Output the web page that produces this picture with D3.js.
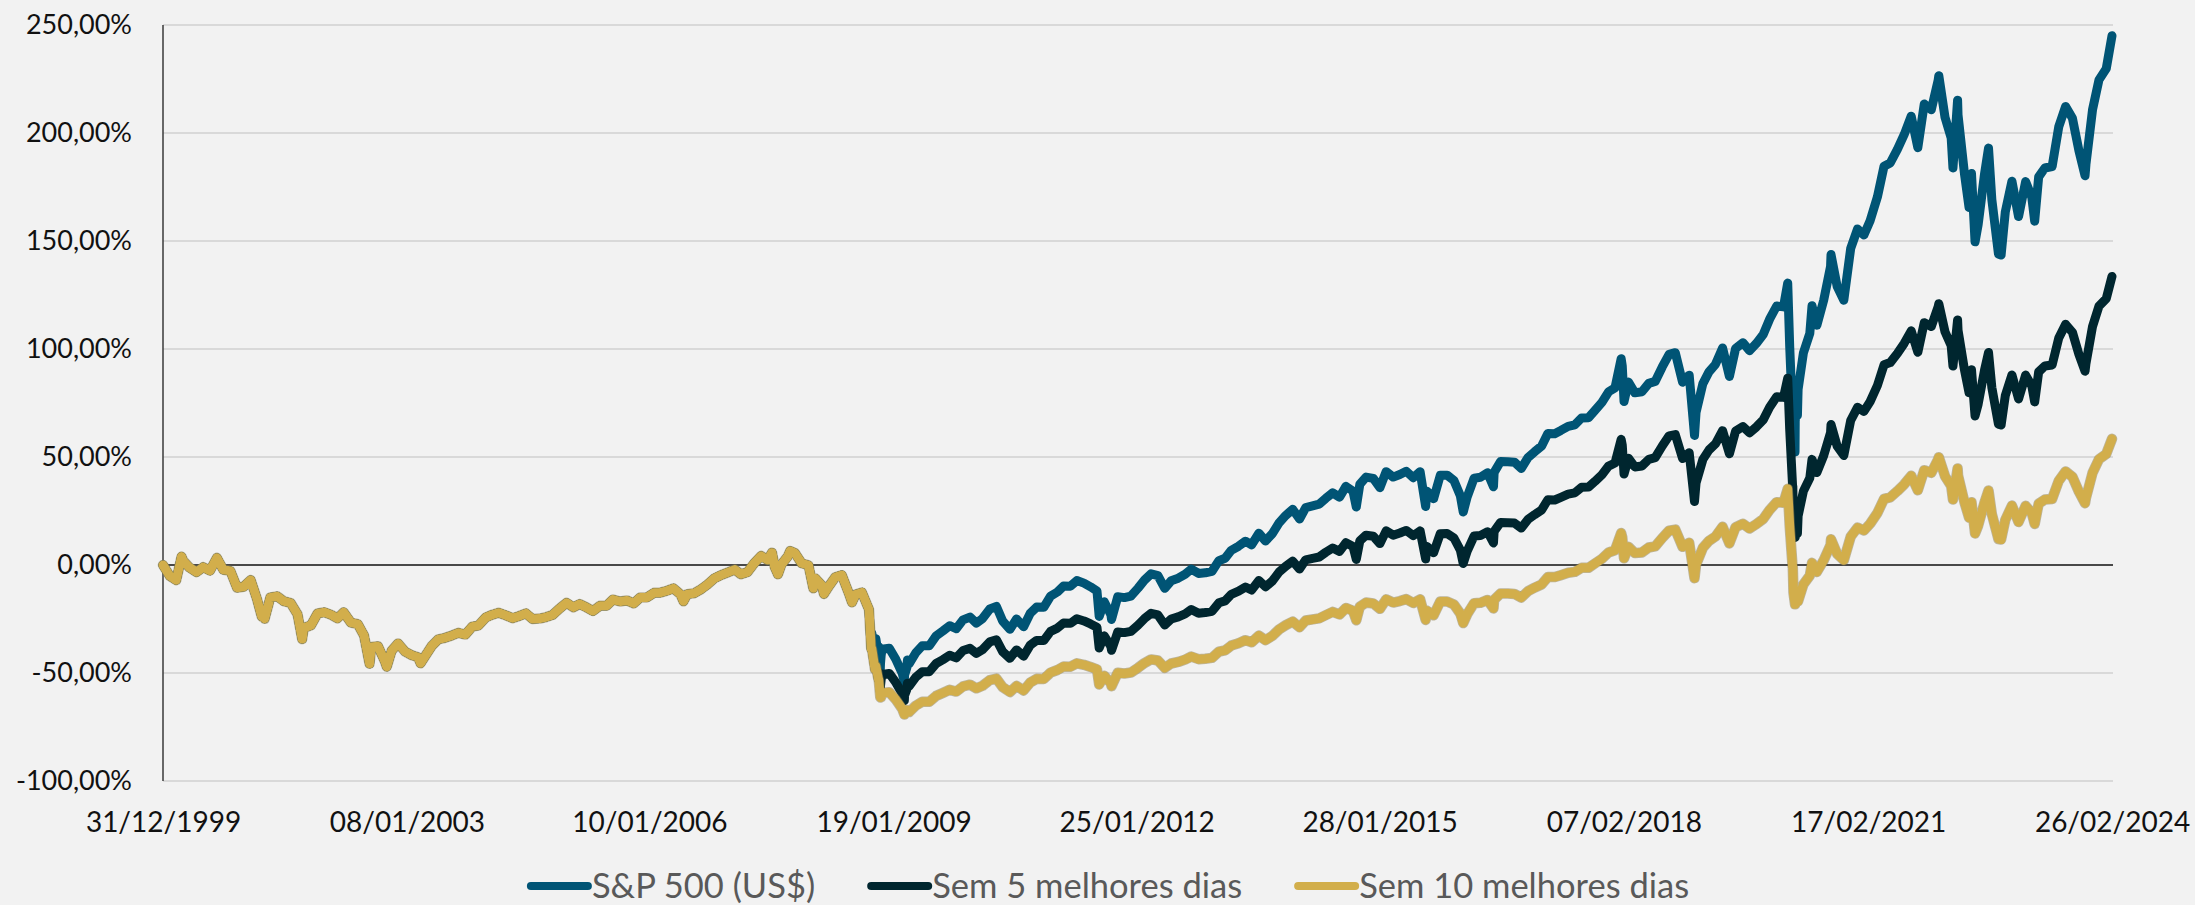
<!DOCTYPE html>
<html><head><meta charset="utf-8">
<script src="https://cdn.jsdelivr.net/npm/d3@7"></script>
<style>
html,body{margin:0;padding:0;background:#f2f2f2;}
svg{display:block;font-family:Lato,"Open Sans",sans-serif;}
</style>
</head><body>
<svg id="chart" width="2195" height="905"></svg>
<script>
// ---------------- DATA ----------------
const seriesNames = ["S&P 500 (US$)", "Sem 5 melhores dias", "Sem 10 melhores dias"];
const seriesColors = ["#005475", "#00262f", "#d2ae4b"];
const yTickValues = [-100, -50, 0, 50, 100, 150, 200, 250];
const xTickLabels = ["31/12/1999","08/01/2003","10/01/2006","19/01/2009","25/01/2012","28/01/2015","07/02/2018","17/02/2021","26/02/2024"];

// Period where the three series coincide (before the best days of Oct 2008)
const commonDates = ["1999-12-31","2000-01-31","2000-02-29","2000-03-24","2000-03-31","2000-04-28","2000-05-31","2000-06-30","2000-07-31","2000-08-31","2000-09-29","2000-10-31","2000-11-30","2000-12-29",
"2001-01-31","2001-02-28","2001-03-22","2001-03-30","2001-04-04","2001-04-30","2001-05-31","2001-06-29","2001-07-31","2001-08-31","2001-09-21","2001-09-28","2001-10-31","2001-11-30","2001-12-31",
"2002-01-31","2002-02-28","2002-03-28","2002-04-30","2002-05-31","2002-06-28","2002-07-23","2002-07-31","2002-08-30","2002-09-30","2002-10-09","2002-10-31","2002-11-29","2002-12-31",
"2003-01-31","2003-02-28","2003-03-11","2003-03-31","2003-04-30","2003-05-30","2003-06-30","2003-07-31","2003-08-29","2003-09-30","2003-10-31","2003-11-28","2003-12-31",
"2004-01-30","2004-02-27","2004-03-31","2004-04-30","2004-05-28","2004-06-30","2004-07-30","2004-08-31","2004-09-30","2004-10-29","2004-11-30","2004-12-31",
"2005-01-31","2005-02-28","2005-03-31","2005-04-29","2005-05-31","2005-06-30","2005-07-29","2005-08-31","2005-09-30","2005-10-31","2005-11-30","2005-12-30",
"2006-01-31","2006-02-28","2006-03-31","2006-04-28","2006-05-31","2006-06-13","2006-06-30","2006-07-31","2006-08-31","2006-09-29","2006-10-31","2006-11-30","2006-12-29",
"2007-01-31","2007-02-28","2007-03-30","2007-04-30","2007-05-31","2007-06-29","2007-07-19","2007-07-31","2007-08-15","2007-08-31","2007-09-28","2007-10-09","2007-10-31","2007-11-30","2007-12-31",
"2008-01-22","2008-01-31","2008-02-29","2008-03-10","2008-03-31","2008-04-30","2008-05-30","2008-06-30","2008-07-15","2008-07-31","2008-08-29","2008-09-30","2008-10-10"];
const commonValues = [0,-5.1,-7.0,3.9,2.0,-1.1,-3.3,-1.0,-2.6,3.3,-2.2,-2.7,-10.5,-10.1,
-7.0,-15.6,-23.9,-21.0,-24.9,-15.0,-14.5,-16.7,-17.6,-22.8,-34.3,-29.2,-27.9,-22.4,-21.9,
-23.1,-24.7,-21.9,-26.7,-27.4,-32.6,-45.7,-38.0,-37.6,-44.5,-47.1,-39.7,-36.3,-40.1,
-41.8,-42.7,-45.5,-42.3,-37.6,-34.4,-33.7,-32.6,-31.4,-32.2,-28.5,-28.0,-24.3,
-23.0,-22.1,-23.3,-24.6,-23.7,-22.4,-25.0,-24.8,-24.1,-23.1,-20.1,-17.5,
-19.6,-18.1,-19.6,-21.3,-18.9,-18.9,-16.0,-16.9,-16.4,-17.8,-15.0,-15.0,
-12.9,-12.8,-11.9,-10.8,-13.6,-16.8,-13.5,-13.1,-11.3,-9.1,-6.2,-4.7,-3.5,
-2.1,-4.3,-3.3,0.9,4.2,2.3,5.7,-0.9,-4.3,0.3,3.9,6.5,5.5,0.8,-0.1,
-10.8,-6.2,-9.4,-13.4,-10.0,-5.7,-4.7,-12.9,-17.3,-13.7,-12.7,-20.6,-38.8];

// Period after the split
const splitDates = ["2008-10-13","2008-10-27","2008-10-28","2008-10-31","2008-11-12","2008-11-13","2008-11-20","2008-11-21","2008-11-24","2008-11-28","2008-12-31",
"2009-01-30","2009-02-27","2009-03-09","2009-03-10","2009-03-20","2009-03-23","2009-03-31","2009-04-30","2009-05-29","2009-06-30","2009-07-31","2009-08-31","2009-09-30","2009-10-30","2009-11-30","2009-12-31",
"2010-01-29","2010-02-26","2010-03-31","2010-04-30","2010-05-28","2010-06-30","2010-07-30","2010-08-31","2010-09-30","2010-10-29","2010-11-30","2010-12-31",
"2011-01-31","2011-02-28","2011-03-31","2011-04-29","2011-05-31","2011-06-30","2011-07-29","2011-08-08","2011-08-31","2011-09-30","2011-10-03","2011-10-31","2011-11-30","2011-12-30",
"2012-01-31","2012-02-29","2012-03-30","2012-04-30","2012-05-31","2012-06-29","2012-07-31","2012-08-31","2012-09-28","2012-10-31","2012-11-30","2012-12-31",
"2013-01-31","2013-02-28","2013-03-28","2013-04-30","2013-05-31","2013-06-28","2013-07-31","2013-08-30","2013-09-30","2013-10-31","2013-11-29","2013-12-31",
"2014-01-31","2014-02-28","2014-03-31","2014-04-30","2014-05-30","2014-06-30","2014-07-31","2014-08-29","2014-09-30","2014-10-15","2014-10-31","2014-11-28","2014-12-31",
"2015-01-30","2015-02-27","2015-03-31","2015-04-30","2015-05-29","2015-06-30","2015-07-31","2015-08-25","2015-08-31","2015-09-30","2015-10-30","2015-11-30","2015-12-31",
"2016-01-29","2016-02-11","2016-02-29","2016-03-31","2016-04-29","2016-05-31","2016-06-27","2016-06-30","2016-07-29","2016-08-31","2016-09-30","2016-10-31","2016-11-30","2016-12-30",
"2017-01-31","2017-02-28","2017-03-31","2017-04-28","2017-05-31","2017-06-30","2017-07-31","2017-08-31","2017-09-29","2017-10-31","2017-11-30","2017-12-29",
"2018-01-26","2018-01-31","2018-02-08","2018-02-28","2018-03-29","2018-04-30","2018-05-31","2018-06-29","2018-07-31","2018-08-31","2018-09-28","2018-10-31","2018-11-30","2018-12-24","2018-12-31",
"2019-01-31","2019-02-28","2019-03-29","2019-04-30","2019-05-31","2019-06-28","2019-07-31","2019-08-30","2019-09-30","2019-10-31","2019-11-29","2019-12-31",
"2020-01-31","2020-02-19","2020-02-28","2020-03-12","2020-03-13","2020-03-16","2020-03-23","2020-03-24","2020-03-31","2020-04-03","2020-04-06","2020-04-30","2020-05-29","2020-06-08","2020-06-30","2020-07-31","2020-08-31","2020-09-02","2020-09-30","2020-10-30","2020-11-30","2020-12-31",
"2021-01-29","2021-02-26","2021-03-31","2021-04-30","2021-05-28","2021-06-30","2021-07-30","2021-08-31","2021-09-30","2021-10-29","2021-11-30","2021-12-31",
"2022-01-03","2022-01-31","2022-02-28","2022-03-08","2022-03-29","2022-03-31","2022-04-29","2022-05-20","2022-05-31","2022-06-16","2022-06-30","2022-07-29","2022-08-16","2022-08-31","2022-09-30","2022-10-12","2022-10-31","2022-11-30","2022-12-30",
"2023-01-31","2023-02-28","2023-03-13","2023-03-31","2023-04-28","2023-05-31","2023-06-30","2023-07-31","2023-08-31","2023-09-29","2023-10-27","2023-10-31","2023-11-30","2023-12-29",
"2024-01-31","2024-02-26"];
const spValues = [-31.7,-42.2,-36.0,-34.1,-42.0,-38.0,-48.8,-45.6,-42.0,-39.0,-38.5,
-43.8,-50.0,-54.0,-51.0,-47.7,-44.0,-45.7,-40.6,-37.4,-37.4,-32.8,-30.5,-28.1,-29.5,-25.4,-24.1,
-26.9,-24.8,-20.4,-19.2,-25.9,-29.8,-25.0,-28.6,-22.3,-19.5,-19.6,-14.4,
-12.5,-9.7,-9.8,-7.2,-8.4,-10.1,-12.0,-23.8,-17.0,-23.0,-25.2,-14.7,-15.1,-14.4,
-10.7,-7.0,-4.1,-4.9,-10.8,-7.3,-6.1,-4.3,-1.9,-3.9,-3.6,-2.9,
2.0,3.1,6.8,8.7,11.0,9.3,14.7,11.1,14.5,19.6,22.9,25.8,
21.3,26.6,27.4,28.2,30.9,33.4,31.4,36.4,34.2,26.8,37.4,40.7,40.1,
35.8,43.2,40.7,41.9,43.4,40.4,43.2,27.1,34.2,30.7,41.5,41.6,39.1,
32.1,24.5,31.5,40.2,40.6,42.7,36.2,42.9,47.9,47.8,47.6,44.7,49.7,52.4,
55.1,60.9,60.8,62.3,64.2,64.9,68.1,68.2,71.5,75.3,80.2,82.0,
95.5,92.2,75.7,84.7,79.7,80.2,84.1,85.0,91.7,97.5,98.3,84.6,87.9,60.0,70.6,
84.0,89.5,92.9,100.5,87.3,100.2,102.9,99.2,102.6,106.7,113.8,119.9,
119.5,130.5,101.1,68.8,84.5,62.4,52.3,66.6,75.9,69.4,81.3,98.2,107.2,120.0,111.0,122.6,138.2,143.7,128.9,122.6,146.5,155.6,
152.8,159.4,170.4,184.6,186.1,192.5,199.2,207.8,193.2,213.4,210.8,224.4,
226.5,207.3,197.7,183.8,215.2,208.3,181.2,165.5,181.2,149.6,157.6,181.1,193.0,169.2,144.0,143.5,163.5,177.7,161.3,
177.5,170.2,159.2,179.7,183.8,184.5,202.9,212.3,206.8,191.9,180.2,185.4,210.9,224.6,
229.8,245.0];
const sem5Values = [-38.8,-48.2,-48.2,-46.7,-53.1,-49.8,-58.6,-56.0,-53.1,-50.7,-50.2,
-54.5,-59.5,-62.8,-60.4,-57.7,-54.7,-56.1,-51.9,-49.4,-49.4,-45.6,-43.8,-41.8,-43.0,-39.6,-38.6,
-40.9,-39.2,-35.6,-34.6,-40.1,-43.2,-39.3,-42.2,-37.1,-34.9,-35.0,-30.7,
-29.2,-26.9,-27.0,-24.9,-25.9,-27.3,-28.8,-38.4,-32.8,-37.7,-39.5,-31.0,-31.3,-30.7,
-27.8,-24.8,-22.4,-23.1,-27.8,-25.0,-24.0,-22.6,-20.6,-22.3,-22.0,-21.4,
-17.5,-16.6,-13.6,-12.1,-10.2,-11.6,-7.2,-10.1,-7.4,-3.2,-0.6,1.8,
-1.9,2.4,3.1,3.7,5.9,7.9,6.3,10.3,8.6,2.6,11.2,13.8,13.3,
9.9,15.8,13.8,14.8,16.0,13.6,15.8,2.8,8.6,5.7,14.5,14.6,12.5,
6.9,0.7,6.4,13.4,13.7,15.4,10.2,15.6,19.7,19.6,19.4,17.1,21.1,23.3,
25.5,30.2,30.1,31.3,32.8,33.4,36.0,36.1,38.7,41.8,45.8,47.2,
58.2,55.5,42.1,49.4,45.4,45.8,48.9,49.7,55.1,59.8,60.4,49.3,52.0,29.4,38.0,
48.9,53.3,56.1,62.2,51.5,62.0,64.1,61.2,63.9,67.2,73.0,77.9,
77.6,86.5,62.7,36.6,36.5,20.2,12.7,12.8,19.1,14.7,22.7,34.2,40.3,48.9,42.8,50.7,61.3,65.0,55.0,50.7,66.9,73.0,
71.1,75.6,83.1,92.7,93.7,98.0,102.6,108.4,98.5,112.2,110.4,119.6,
121.0,108.0,101.5,92.1,113.4,108.7,90.4,79.7,90.4,69.0,74.4,90.3,98.4,82.2,65.2,64.8,78.4,88.0,76.9,
87.9,82.9,75.5,89.4,92.1,92.6,105.1,111.4,107.7,97.6,89.7,93.2,110.5,119.8,
123.3,133.6];
const sem10Values = [-38.8,-48.2,-48.2,-46.7,-53.1,-53.1,-61.2,-61.3,-61.2,-59.2,-58.9,
-62.4,-66.5,-69.2,-69.2,-67.1,-67.1,-68.1,-65.1,-63.3,-63.3,-60.6,-59.2,-57.8,-58.6,-56.2,-55.4,
-57.1,-55.9,-53.3,-52.6,-56.5,-58.8,-56.0,-58.1,-54.4,-52.7,-52.8,-49.8,
-48.6,-47.0,-47.1,-45.5,-46.2,-47.2,-48.3,-55.3,-51.3,-54.8,-56.1,-49.9,-50.2,-49.8,
-47.6,-45.4,-43.7,-44.2,-47.6,-45.6,-44.9,-43.8,-42.4,-43.6,-43.4,-43.0,
-40.1,-39.5,-37.3,-36.2,-34.8,-35.8,-32.7,-34.8,-32.8,-29.8,-27.9,-26.2,
-28.8,-25.7,-25.2,-24.7,-23.2,-21.7,-22.9,-19.9,-21.2,-25.6,-19.3,-17.4,-17.8,
-20.3,-15.9,-17.4,-16.7,-15.8,-17.6,-15.9,-25.4,-21.2,-23.3,-16.9,-16.9,-18.3,
-22.5,-26.9,-22.8,-17.7,-17.5,-16.2,-20.1,-16.1,-13.2,-13.2,-13.4,-15.1,-12.1,-10.5,
-9.0,-5.6,-5.6,-4.7,-3.6,-3.2,-1.3,-1.3,0.7,2.9,5.8,6.8,
14.8,12.8,3.1,8.4,5.5,5.8,8.1,8.6,12.5,15.9,16.4,8.4,10.3,-6.1,0.1,
8.0,11.2,13.2,17.7,10.0,17.5,19.1,16.9,18.9,21.3,25.5,29.1,
28.8,35.3,18.0,-0.9,-0.9,-12.8,-18.2,-18.2,-13.6,-16.8,-16.8,-9.0,-4.9,1.0,-3.2,2.2,9.3,11.9,5.1,2.2,13.1,17.3,
16.0,19.1,24.1,30.6,31.3,34.3,37.3,41.3,34.6,43.9,42.7,48.9,
49.9,41.1,36.6,30.3,44.7,41.5,29.1,21.9,29.1,14.6,18.2,29.0,34.5,23.6,12.0,11.8,20.9,27.5,19.9,
27.4,24.0,19.0,28.4,30.3,30.6,39.0,43.3,40.8,34.0,28.6,31.0,42.7,49.0,
51.4,58.4];

// ---------------- CHART ----------------
const parseISO = d3.timeParse("%Y-%m-%d");
const parseLabel = d3.timeParse("%d/%m/%Y");

const svg = d3.select("#chart");
const W = 2195, H = 905;
const plot = {left: 163, right: 2112, top: 25, bottom: 781};

svg.append("rect").attr("width", W).attr("height", H).attr("fill", "#f2f2f2");

const x = d3.scaleTime()
  .domain([parseISO(commonDates[0]), parseISO(splitDates[splitDates.length - 1])])
  .range([plot.left, plot.right]);
const y = d3.scaleLinear().domain([-100, 250]).range([plot.bottom, plot.top]);

// gridlines
svg.append("g").selectAll("line").data(yTickValues.filter(v => v !== 0)).join("line")
  .attr("x1", plot.left).attr("x2", plot.right + 1)
  .attr("y1", d => y(d)).attr("y2", d => y(d))
  .attr("stroke", "#d9d9d9").attr("stroke-width", 2);

// Y axis labels (hyphen-minus, comma decimal)
const fmtPct = v => d3.format(".2f")(v).replace("\u2212", "-").replace(".", ",") + "%";
const yAxis = d3.axisLeft(y).tickValues(yTickValues).tickFormat(fmtPct).tickSize(0).tickPadding(31);
const gy = svg.append("g").attr("transform", `translate(${plot.left},0)`).call(yAxis);
gy.select(".domain").remove();
gy.selectAll("text").attr("font-size", 27).attr("fill", "#111").attr("font-family", "Lato");

// X axis labels
const xAxis = d3.axisBottom(x).tickValues(xTickLabels.map(parseLabel))
  .tickFormat(d3.timeFormat("%d/%m/%Y")).tickSize(0).tickPadding(31);
const gx = svg.append("g").attr("transform", `translate(0,${plot.bottom})`).call(xAxis);
gx.select(".domain").remove();
gx.selectAll("text").attr("font-size", 28).attr("fill", "#111").attr("font-family", "Lato");

// Left axis line and zero line
svg.append("line").attr("x1", plot.left).attr("x2", plot.left).attr("y1", plot.top).attr("y2", plot.bottom)
  .attr("stroke", "#3a3a3a").attr("stroke-width", 1.5);
svg.append("line").attr("x1", plot.left).attr("x2", plot.right + 1).attr("y1", y(0)).attr("y2", y(0))
  .attr("stroke", "#111").attr("stroke-width", 1.6);

// Series
const common = commonDates.map((d, i) => ({date: parseISO(d), value: commonValues[i]}));
const buildSeries = vals => common.concat(splitDates.map((d, i) => ({date: parseISO(d), value: vals[i]})));
const series = [spValues, sem5Values, sem10Values].map(buildSeries);

const line = d3.line().x(d => x(d.date)).y(d => y(d.value)).curve(d3.curveLinear);

const gLines = svg.append("g");
series.forEach((s, i) => {
  if (i === 2) {
    gLines.append("path").datum(s).attr("d", line).attr("fill", "none")
      .attr("stroke", "#8f8154").attr("stroke-opacity", 0.55).attr("stroke-width", 10.5)
      .attr("stroke-linejoin", "round").attr("stroke-linecap", "round");
  }
  gLines.append("path").datum(s).attr("d", line).attr("fill", "none")
    .attr("stroke", seriesColors[i]).attr("stroke-width", 9)
    .attr("stroke-linejoin", "round").attr("stroke-linecap", "round");
});

// Legend
const legend = svg.append("g");
const legendY = 886, swatchW = 57, gapText = 4, gapItem = 56;
const items = legend.selectAll("g").data(seriesNames).join("g");
items.append("line").attr("x1", 0).attr("x2", swatchW).attr("y1", 0).attr("y2", 0)
  .attr("stroke", (d, i) => seriesColors[i]).attr("stroke-width", 8).attr("stroke-linecap", "round");
items.append("text").attr("x", swatchW + gapText).attr("y", 0).attr("dy", "0.35em")
  .attr("font-size", 34.5).attr("fill", "#595959").attr("font-family", "Lato").text(d => d);
const widths = [];
items.each(function() {
  widths.push(swatchW + gapText + this.querySelector("text").getComputedTextLength());
});
const total = d3.sum(widths) + gapItem * (widths.length - 1);
let cx = 1110 - total / 2;
items.attr("transform", (d, i) => {
  const t = `translate(${cx},${legendY})`; cx += widths[i] + gapItem; return t;
});
</script>
</body></html>
